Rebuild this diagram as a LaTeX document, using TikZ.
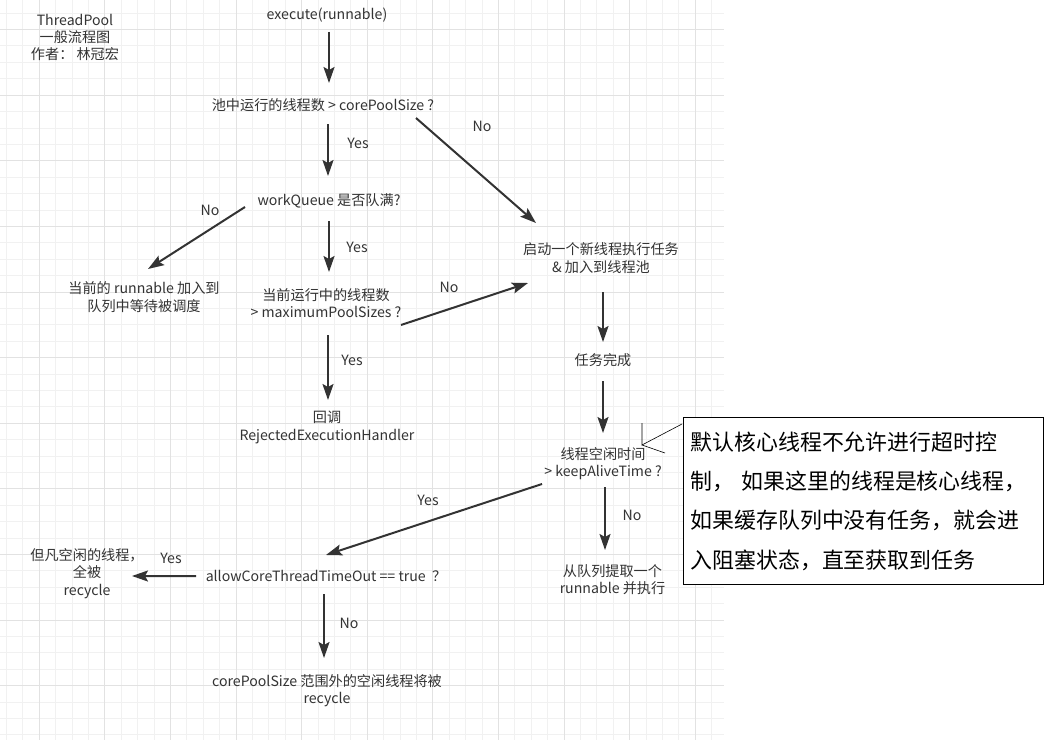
\documentclass[tikz,border=0pt]{standalone}
\usepackage{fontspec}
\setmainfont{Noto Sans CJK SC}
\usetikzlibrary{arrows.meta}
\definecolor{ink}{HTML}{333333}
\definecolor{gridminor}{HTML}{F1F1F1}
\definecolor{gridmajor}{HTML}{E2E2E2}
\begin{document}
\begin{tikzpicture}[x=1bp,y=-1bp,
  txt/.style={inner sep=0pt, align=center, text=ink, font=\fontsize{14.2}{17.5}\selectfont},
  lbl/.style={inner sep=0pt, text=ink, font=\fontsize{14.2}{17.5}\selectfont},
  flow/.style={draw=ink, line width=2bp, -{Stealth[length=16bp,width=11bp,inset=3bp]}},
  callout/.style={draw=black, line width=0.6bp},
  notebox/.style={draw=black, line width=1bp, fill=white, anchor=north west,
    minimum height=167bp, inner xsep=7bp, inner ysep=0pt, text width=346bp,
    align=left, text=black, font=\fontsize{22}{39.5}\selectfont},
  gmin/.style={draw=gridminor, line width=1bp},
  gmaj/.style={draw=gridmajor, line width=1bp}]
\useasboundingbox (0,0) rectangle (1049,740);
\fill[white] (0,0) rectangle (1049,740);
% grid
\foreach \i in {0,...,43} \draw[gmin] ({6.5+16.4*\i},0) -- ({6.5+16.4*\i},740);
\foreach \j in {0,...,44} \draw[gmin] (0,{13.2+16.4*\j}) -- (724,{13.2+16.4*\j});
\foreach \i in {0,...,10} \draw[gmaj] ({39.3+65.6*\i},0) -- ({39.3+65.6*\i},740);
\foreach \j in {0,...,10} \draw[gmaj] (0,{29.6+65.6*\j}) -- (724,{29.6+65.6*\j});
% nodes
\node[txt] (title) at (75,37.5) {ThreadPool\\一般流程图\\作者： 林冠宏};
\node[txt] (exec) at (327,15) {execute(runnable)};
\node[txt] (q1) at (323,105) {池中运行的线程数 > corePoolSize ?};
\node[txt] (q2) at (329,201) {workQueue 是否队满?};
\node[txt] (newthr) at (601,258) {启动一个新线程执行任务\\\& 加入到线程池};
\node[txt] (enq) at (144,297) {当前的 runnable 加入到\\队列中等待被调度};
\node[txt] (q3) at (326,303) {当前运行中的线程数\\> maximumPoolSizes ?};
\node[txt] (reject) at (327,427.5) {回调\\RejectedExecutionHandler};
\node[txt] (done) at (603,360) {任务完成};
\node[txt] (q4) at (603,463.5) {线程空闲时间\\> keepAliveTime ?};
\node[txt] (take) at (612.5,579.5) {从队列提取一个\\runnable 并执行};
\node[txt] (q5) at (326,576) {allowCoreThreadTimeOut == true \ ？};
\node[txt] (all) at (87,573.5) {但凡空闲的线程，\\全被\\recycle};
\node[txt] (out) at (327,690.5) {corePoolSize 范围外的空闲线程将被\\recycle};
% note
\node[notebox] (note) at (683,417) {默认核心线程不允许进行超时控\\制， 如果这里的线程是核心线程，\\如果缓存队列中没有任务，就会进\\入阻塞状态，直至获取到任务};
\coordinate (cA) at (642,423);
\coordinate (cB) at (642,445);
\coordinate (cC) at (665,453);
\draw[callout] (cA) -- (cB) -- ([shift={(-1,7)}]note.north west);
\draw[callout] (cB) -- (cC);
% connectors
\draw[flow] ([shift={(2,17)}]exec.center) -- ([shift={(6,-22)}]q1.center);
\draw[flow] ([shift={(5,19)}]q1.center) -- ([shift={(-1,-25)}]q2.center);
\draw[flow] ([shift={(93,13)}]q1.center) -- ([shift={(-65,-35)}]newthr.center);
\draw[flow] ([shift={(-84,6)}]q2.center) -- ([shift={(4,-28)}]enq.center);
\draw[flow] ([shift={(0,20)}]q2.center) -- ([shift={(3,-31)}]q3.center);
\draw[flow] ([shift={(75,22)}]q3.center) -- ([shift={(-73,25)}]newthr.center);
\draw[flow] ([shift={(2,32)}]q3.center) -- ([shift={(1,-27.5)}]reject.center);
\draw[flow] ([shift={(2,34)}]newthr.center) -- ([shift={(0,-18)}]done.center);
\draw[flow] ([shift={(0,21)}]done.center) -- ([shift={(0,-30.5)}]q4.center);
\draw[flow] ([shift={(2,23.5)}]q4.center) -- ([shift={(-7.5,-29.5)}]take.center);
\draw[flow] ([shift={(-61,20.5)}]q4.center) -- ([shift={(0,-21)}]q5.center);
\draw[flow] ([shift={(-130,0)}]q5.center) -- ([shift={(45,2.5)}]all.center);
\draw[flow] ([shift={(-2,18)}]q5.center) -- ([shift={(-3,-32.5)}]out.center);
% labels
\node[lbl] (l1) at (358,143) {Yes};
\node[lbl] (l2) at (482,126) {No};
\node[lbl] (l3) at (210,210) {No};
\node[lbl] (l4) at (357,247) {Yes};
\node[lbl] (l5) at (449,287) {No};
\node[lbl] (l6) at (352,360) {Yes};
\node[lbl] (l7) at (632,515) {No};
\node[lbl] (l8) at (428,500) {Yes};
\node[lbl] (l9) at (171,558) {Yes};
\node[lbl] (l10) at (349,623) {No};
\end{tikzpicture}
\end{document}
